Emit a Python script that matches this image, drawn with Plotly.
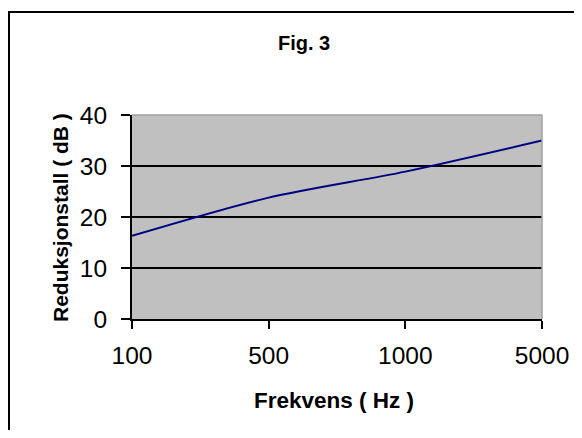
import plotly.graph_objects as go

frequencies = ["100", "500", "1000", "5000"]
reduction_db = [16.3, 23.8, 28.9, 35.0]
y_ticks = [0, 10, 20, 30, 40]

OFF = 8  # page body margin in the browser
W, H = 582 - OFF, 438 - 2 * OFF
L, R, T, B = 132 - OFF, 542 - OFF, 115 - OFF, 319 - OFF

def px(x):
    return (x - OFF - L) / (R - L)

def py(y):
    return (B - (y - OFF)) / (B - T)

fig = go.Figure()
fig.add_trace(go.Scatter(
    x=frequencies, y=reduction_db, mode="lines",
    line=dict(color="#000080", width=2, shape="spline", smoothing=0.8),
    hoverinfo="skip", showlegend=False,
))

font = "Liberation Sans, Arial, sans-serif"
fig.update_layout(
    width=W, height=H,
    margin=dict(l=L, r=W - R, t=T, b=H - B),
    paper_bgcolor="white", plot_bgcolor="#C0C0C0",
    font=dict(family=font, color="black"),
    showlegend=False,
    xaxis=dict(
        type="category", range=[0, 3], showgrid=False,
        showline=True, linecolor="black", linewidth=2,
        ticks="outside", ticklen=8, tickwidth=2, tickcolor="black",
        tickfont=dict(size=24.5, family=font), zeroline=False,
        ticklabelstandoff=6,
    ),
    yaxis=dict(
        range=[0, 40], tickvals=y_ticks, showgrid=True, gridcolor="black", gridwidth=1.5,
        showline=True, linecolor="black", linewidth=2,
        ticks="outside", ticklen=9, tickwidth=2, tickcolor="black",
        tickfont=dict(size=24.5, family=font), zeroline=False,
        ticklabelstandoff=9,
    ),
    shapes=[
        dict(type="rect", xref="paper", yref="paper",
             x0=px(9), x1=px(579), y0=py(446), y1=py(12),
             line=dict(color="black", width=2), layer="above"),
        dict(type="line", xref="paper", yref="paper", x0=0, x1=1, y0=1, y1=1,
             line=dict(color="#A0A0A0", width=1.5), layer="above"),
        dict(type="line", xref="paper", yref="paper", x0=1, x1=1, y0=0, y1=1,
             line=dict(color="#A0A0A0", width=1.5), layer="above"),
    ],
    annotations=[
        dict(text="<b>Fig. 3</b>", xref="paper", yref="paper",
             x=px(304), y=py(43), xanchor="center", yanchor="middle", showarrow=False,
             font=dict(size=20, family=font)),
        dict(text="<b>Frekvens ( Hz )</b>", xref="paper", yref="paper",
             x=px(334), y=py(400), xanchor="center", yanchor="middle", showarrow=False,
             font=dict(size=22.5, family=font)),
        dict(text="<b>Reduksjonstall ( dB )</b>", xref="paper", yref="paper",
             x=px(60), y=py(218), xanchor="center", yanchor="middle", showarrow=False,
             textangle=-90, font=dict(size=21, family=font)),
    ],
)

fig.write_html("out.html")
